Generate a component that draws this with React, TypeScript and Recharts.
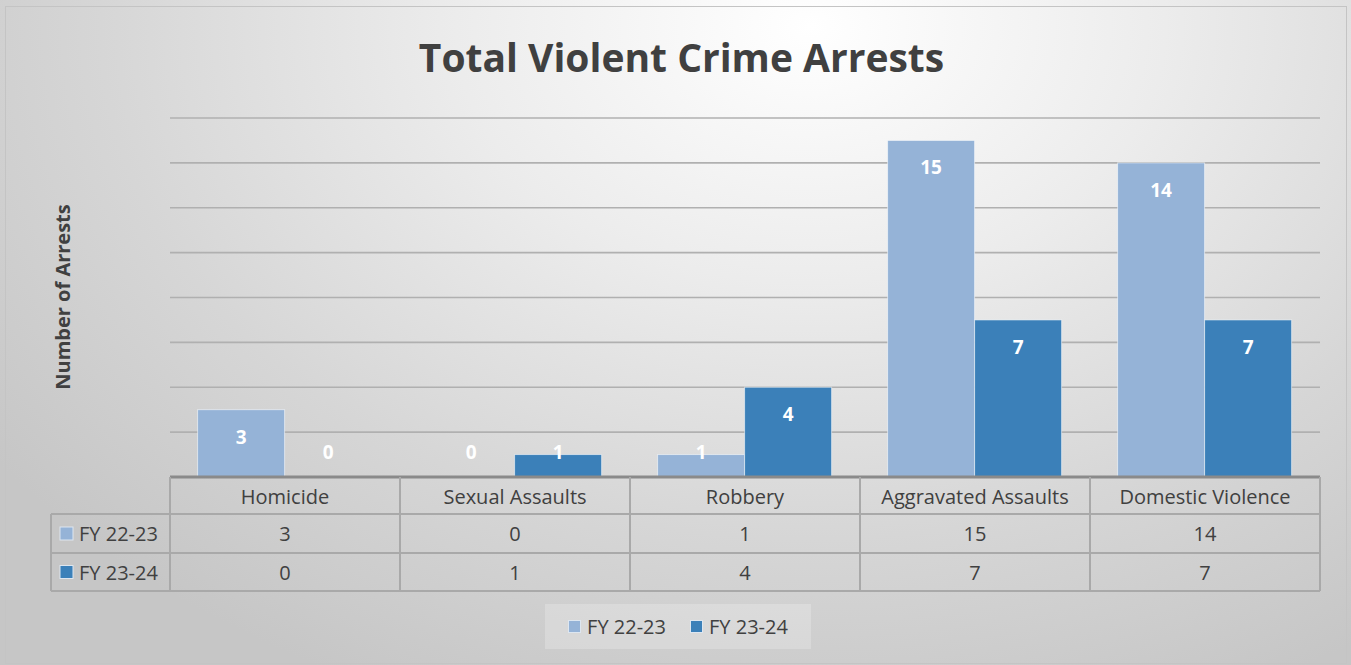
import React from 'react';
import { BarChart, Bar, XAxis, YAxis, CartesianGrid, Legend, LabelList } from 'recharts';

const categories = ['Homicide', 'Sexual Assaults', 'Robbery', 'Aggravated Assaults', 'Domestic Violence'];
const fy2223 = [3, 0, 1, 15, 14];
const fy2324 = [0, 1, 4, 7, 7];
const seriesNames = ['FY 22-23', 'FY 23-24'];
const yTicks = [0, 2, 4, 6, 8, 10, 12, 14, 16];

const W = 1351;
const H = 665;
const PLOT_LEFT = 170;
const PLOT_RIGHT = 1320;
const PLOT_TOP = 118;
const BASELINE = 477;
const AXIS_H = 114;
const ROWS = [BASELINE, 514, 553, 591];
const KEY_LEFT = 51;

const COLORS = ['#95b3d7', '#3b80b9'];
const FONT = '"Open Sans", sans-serif';
const TEXT = '#404040';
const LINE = '#a9a9a9';

const seriesValues = [fy2223, fy2324];
const data = categories.map((name, i) => ({ name, fy2223: fy2223[i], fy2324: fy2324[i] }));

// white value label, sits inside the top of the bar (or just above baseline for tiny bars)
const BarValue = (props: any) => {
  const { x, y, width, height, value } = props;
  const cy = Math.min(y + 27, y + height - 25);
  return (
    <text x={x + width / 2} y={cy} textAnchor="middle" dominantBaseline="central"
      fill="#fff" fontWeight={700} fontSize={19} fontFamily={FONT}>
      {String(value)}
    </text>
  );
};

// zero bars get a hairline so their label still gets placed; keep it invisible
const BarShape = (props: any) => {
  const { x, y, width, height, fill, value } = props;
  const v = Array.isArray(value) ? value[1] - value[0] : value;
  if (!v) return null;
  return <rect x={x} y={y} width={width} height={height} fill={fill} stroke="rgba(255,255,255,0.55)" strokeWidth={1} />;
};

// x axis tick doubles as a column of the data table
const TableTick = (props: any) => {
  const { x, payload } = props;
  const i = payload.index;
  const cellW = (PLOT_RIGHT - PLOT_LEFT) / categories.length;
  const left = x - cellW / 2;
  const mid = (a: number, b: number) => (a + b) / 2;
  return (
    <g fontFamily={FONT} fontSize={20} fill={TEXT}>
      <line x1={left} y1={ROWS[0]} x2={left} y2={ROWS[3]} stroke={LINE} strokeWidth={2} />
      {i === categories.length - 1 && (
        <line x1={left + cellW} y1={ROWS[0]} x2={left + cellW} y2={ROWS[3]} stroke={LINE} strokeWidth={2} />
      )}
      {[1, 2, 3].map((r) => (
        <line key={r} x1={left} y1={ROWS[r]} x2={left + cellW} y2={ROWS[r]} stroke={LINE} strokeWidth={2} />
      ))}
      <text x={x} y={mid(ROWS[0], ROWS[1]) + 1} textAnchor="middle" dominantBaseline="central">
        {payload.value}
      </text>
      {seriesValues.map((vals, s) => (
        <text key={s} x={x} y={mid(ROWS[s + 1], ROWS[s + 2])} textAnchor="middle" dominantBaseline="central">
          {vals[i]}
        </text>
      ))}
      {i === 0 && (
        <g>
          <line x1={KEY_LEFT} y1={ROWS[1]} x2={KEY_LEFT} y2={ROWS[3]} stroke={LINE} strokeWidth={2} />
          {[1, 2, 3].map((r) => (
            <line key={r} x1={KEY_LEFT} y1={ROWS[r]} x2={left} y2={ROWS[r]} stroke={LINE} strokeWidth={2} />
          ))}
          {seriesNames.map((n, s) => {
            const cy = mid(ROWS[s + 1], ROWS[s + 2]);
            return (
              <g key={n}>
                <rect x={60} y={cy - 6.5} width={13} height={13} fill={COLORS[s]} stroke="#dde6f0" strokeWidth={1} />
                <text x={79} y={cy} dominantBaseline="central">{n}</text>
              </g>
            );
          })}
        </g>
      )}
    </g>
  );
};

const LegendBox = () => (
  <div style={{
    width: 266, height: 45, background: 'rgba(255,255,255,0.22)', display: 'flex',
    alignItems: 'center', justifyContent: 'center', gap: 24, fontFamily: FONT, fontSize: 20, color: TEXT,
  }}>
    {seriesNames.map((n, s) => (
      <span key={n} style={{ display: 'flex', alignItems: 'center', gap: 6 }}>
        <span style={{ width: 13, height: 13, background: COLORS[s], border: '1px solid #dde6f0', boxSizing: 'border-box' }} />
        {n}
      </span>
    ))}
  </div>
);

export default function App() {
  return (
    <div style={{
      position: 'absolute', left: 0, top: 0, width: W, height: H, overflow: 'hidden',
      background: 'radial-gradient(ellipse 75% 110% at 60% 4%, #ffffff 0%, #ececec 35%, #d6d6d6 70%, #c6c6c6 100%)',
    }}>
      <div style={{
        position: 'absolute', left: 5, top: 6, width: 1340, height: 656, border: '1.5px solid #c4c4c4',
      }} />
      <div style={{
        position: 'absolute', left: 0, width: W, top: 30, textAlign: 'center', fontFamily: FONT,
        fontWeight: 700, fontSize: 39, color: TEXT, lineHeight: '54px', paddingLeft: 6,
      }}>
        Total Violent Crime Arrests
      </div>
      <div style={{
        position: 'absolute', left: 62, top: 297, transform: 'translate(-50%, -50%) rotate(-90deg)',
        fontFamily: FONT, fontWeight: 700, fontSize: 20, color: TEXT, whiteSpace: 'nowrap',
      }}>
        Number of Arrests
      </div>
      <div style={{ position: 'absolute', left: 0, top: 0 }}>
        <BarChart
          width={W}
          height={H}
          data={data}
          margin={{ top: PLOT_TOP, left: PLOT_LEFT, right: W - PLOT_RIGHT, bottom: H - BASELINE - AXIS_H }}
          barCategoryGap="12%"
          barGap={0}
        >
          <CartesianGrid vertical={false} stroke="#b0b0b0" strokeWidth={1.6} />
          <YAxis hide domain={[0, 16]} ticks={yTicks} />
          <XAxis
            dataKey="name"
            height={AXIS_H}
            tickLine={false}
            tickSize={0}
            tickMargin={0}
            interval={0}
            axisLine={{ stroke: '#8a8a8a', strokeWidth: 3 }}
            tick={<TableTick />}
          />
          <Legend
            layout="horizontal"
            verticalAlign="middle"
            align="center"
            wrapperStyle={{ position: 'absolute', left: 545, top: 604, width: 266, height: 45 }}
            content={<LegendBox />}
          />
          <Bar dataKey="fy2223" name={seriesNames[0]} fill={COLORS[0]} minPointSize={0.01}
            shape={<BarShape />} isAnimationActive={false}>
            <LabelList dataKey="fy2223" content={<BarValue />} />
          </Bar>
          <Bar dataKey="fy2324" name={seriesNames[1]} fill={COLORS[1]} minPointSize={0.01}
            shape={<BarShape />} isAnimationActive={false}>
            <LabelList dataKey="fy2324" content={<BarValue />} />
          </Bar>
        </BarChart>
      </div>
    </div>
  );
}
